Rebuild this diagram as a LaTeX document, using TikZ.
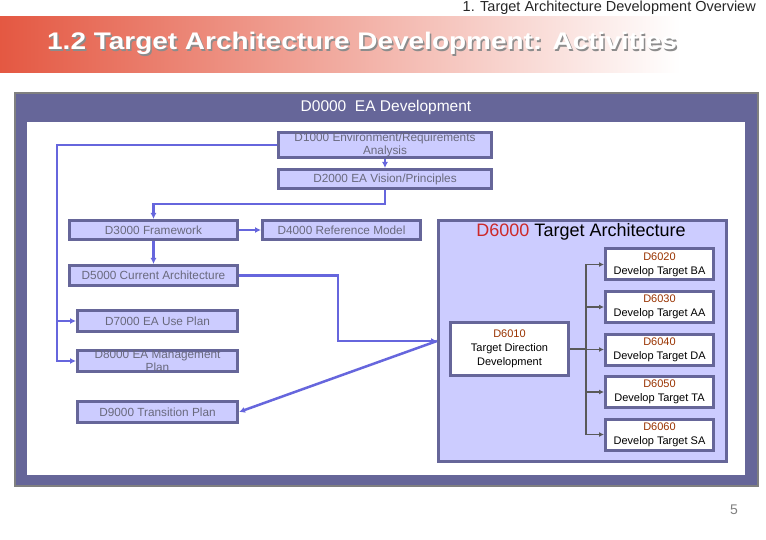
\documentclass[tikz,border=0pt]{standalone}
\usepackage{fontspec}
\setmainfont{Liberation Sans}
\usetikzlibrary{arrows.meta,positioning}

\definecolor{slate}{RGB}{102,102,153}
\definecolor{lav}{RGB}{204,204,255}
\definecolor{flowblue}{RGB}{102,102,221}
\definecolor{boxtext}{RGB}{105,105,125}
\definecolor{codered}{RGB}{153,51,0}
\definecolor{d6red}{RGB}{204,41,41}
\definecolor{bandred}{RGB}{228,88,66}

\tikzset{
  basic/.style   = {draw=slate, line width=3pt, rectangle, inner sep=0pt, align=center},
  level 2/.style = {basic, fill=lav, text=boxtext, font=\fontsize{11.8}{13.5}\selectfont},
  level 3/.style = {basic, fill=white, font=\fontsize{11}{14}\selectfont,
                    minimum width=108, minimum height=31},
  flow/.style    = {draw=flowblue, line width=2.5pt, -{Latex[length=6pt,width=6pt]}},
  sub/.style     = {draw=black!65, line width=1.5pt, -{Latex[length=5pt,width=5pt]}}
}

\begin{document}
\begin{tikzpicture}[x=1pt,y=-1pt]

\useasboundingbox (0,0) rectangle (766,540);

% header and title band
\node[anchor=north east, text=black!85, font=\fontsize{14.5}{15}\selectfont, inner sep=1pt] at (757,0) (header) {1. Target Architecture Development Overview};
\shade[left color=bandred, right color=white] (0,17) rectangle (680,73);
\node[anchor=base west, inner sep=0pt, text=black!45, font=\bfseries\fontsize{24}{24}\selectfont] at (48.5,51.5) (titleshadow) {\scalebox{1.165}[1]{1.2 Target Architecture Development: Activities}};
\node[anchor=base west, inner sep=0pt, text=white, font=\bfseries\fontsize{24}{24}\selectfont] at (47,50) (title) {\scalebox{1.165}[1]{1.2 Target Architecture Development: Activities}};

% frame
\node[draw=gray, line width=2pt, fill=slate, minimum width=743, minimum height=393, inner sep=0pt] at (386.5,289.5) (D0000) {};
\node[fill=white, minimum width=718, minimum height=353, inner sep=0pt] at (386,298.5) (canvas) {};
\node[text=white, font=\fontsize{15.5}{17}\selectfont] at (386,107) (D0000title) {D0000\ \ EA Development};

% activities
\node[level 2, minimum width=213, minimum height=21] at (385,145) (D1000) {D1000 Environment/Requirements\\Analysis};
\node[level 2, minimum width=213, minimum height=19] at (385,179) (D2000) {D2000 EA Vision/Principles};
\node[level 2, minimum width=168, minimum height=19] at (153.5,230) (D3000) {D3000 Framework};
\node[level 2, minimum width=158, minimum height=19] at (341.5,230) (D4000) {D4000 Reference Model};
\node[level 2, minimum width=168, minimum height=20] at (153.5,275.5) (D5000) {D5000 Current Architecture};
\node[level 2, minimum width=160, minimum height=21] at (157.5,321) (D7000) {D7000 EA Use Plan};
\node[level 2, minimum width=160, minimum height=21] at (157.5,361) (D8000) {D8000 EA Management\\Plan};
\node[level 2, minimum width=160, minimum height=21] at (157.5,412) (D9000) {D9000 Transition Plan};

% target architecture
\node[level 2, minimum width=288, minimum height=241] at (582.5,341) (D6000) {};
\node[font=\fontsize{18}{20}\selectfont] at (581,232) (D6000title) {\textcolor{d6red}{D6000} Target Architecture};
\node[level 3, minimum width=118, minimum height=53] at (509.5,349) (D6010) {\textcolor{codered}{D6010}\\Target Direction\\Development};

\foreach \code/\name [count=\i] in {D6020/BA, D6030/AA, D6040/DA, D6050/TA, D6060/SA}{
    \pgfmathsetmacro\result{264.5 + 42.5*(\i-1)}
    \node[level 3] at (659.5,\result) (\code) {\textcolor{codered}{\code}\\Develop Target \name};
    \draw[sub] (D6010.east) -- ++(16,0) |- (\code.west);
    }

% flows
\draw[flow] (D1000.west) -| ([xshift=-19pt]D8000.west) -- (D8000.west);
\draw[flow] ([xshift=-19pt]D7000.west) -- (D7000.west);
\draw[flow] (D1000.south) -- (D2000.north);
\draw[flow] (D2000.south) -- ++(0,14) -| (D3000.north);
\draw[flow] (D3000.east) -- (D4000.west);
\draw[flow] (D3000.south) -- (D5000.north);
\draw[flow] (D5000.east) -| ([xshift=-99pt]D6000.west) -- (D6000.west);
\draw[flow] (D6000.west) -- (D9000.east);

\node[text=gray, font=\fontsize{14}{14}\selectfont] at (734,510) (pagenum) {5};

\end{tikzpicture}
\end{document}
